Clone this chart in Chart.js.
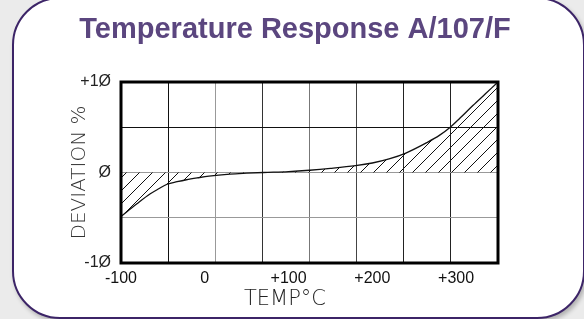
<!DOCTYPE html>
<html>
<head>
<meta charset="utf-8">
<script src="https://cdn.jsdelivr.net/npm/chart.js@4.4.1/dist/chart.umd.min.js"></script>
<style>
  html, body { margin: 0; padding: 0; width: 584px; height: 319px; overflow: hidden; background: #ebebeb; }
  #card { position: absolute; left: 12px; top: -3px; width: 569px; height: 318px; border: 2px solid #3c2467;
          border-radius: 48px; background: #fff; box-shadow: 2px 3px 4px rgba(0,0,0,.25); }
  #chart { position: absolute; left: 0; top: 0; }
  #xtitle { position: absolute; left: 235px; width: 100px; top: 286px; text-align: center; color: #222;
            font: 200 21px 'DejaVu Sans'; font-stretch: condensed; line-height: 24px; white-space: nowrap; }
</style>
</head>
<body>
<div id="card"></div>
<canvas id="chart" width="584" height="319"></canvas>
<div id="xtitle">TEMP°C</div>
<script>
// temperature (°C) and deviation (%)
const temps     = [-100, -81,  -65,   -55,  -45,  -33,   -22,  -8,    5,    30,    50,   70,  100, 125,  150,  180, 200,  220, 240,  265, 280, 293, 305,  320, 335, 350];
const deviation = [-4.85, -3.45, -2.35, -1.8, -1.3, -1.02, -0.8, -0.58, -0.4, -0.18, -0.08, 0.0, 0.1, 0.25, 0.45, 0.75, 1.05, 1.5, 2.15, 3.3, 4.1, 5.0, 6.05, 7.4, 8.7, 10];

const xTickValues = [-100, 0, 100, 200, 300];
const xTickLabels = ['-100', '0', '+100', '+200', '+300'];
const yTickValues = [10, 0, -10];
const yTickLabels = ['+1Ø', 'Ø', '-1Ø'];

const X_MIN = -100, X_MAX = 350, X_DIVS = 8;

function hatch() {
  const c = document.createElement('canvas');
  c.width = c.height = 13;
  const g = c.getContext('2d');
  g.strokeStyle = '#111';
  g.lineWidth = 1;
  g.beginPath();
  g.moveTo(-1, 14); g.lineTo(14, -1);
  g.moveTo(-1, 1); g.lineTo(1, -1);
  g.moveTo(12, 14); g.lineTo(14, 12);
  g.stroke();
  return g.createPattern(c, 'repeat');
}

const frame = {
  id: 'frame',
  afterDraw(chart) {
    const { ctx, chartArea: a } = chart;
    ctx.save();
    ctx.strokeStyle = '#000';
    ctx.lineWidth = 3;
    ctx.strokeRect(a.left, a.top, a.right - a.left, a.bottom - a.top);
    ctx.restore();
  }
};

const vGridColors = ['#000', '#111', '#999', '#333', '#777', '#444', '#222', '#222', '#000'];
const PAD = { top: 13, left: 62, right: 56, bottom: 6 };

new Chart(document.getElementById('chart'), {
  type: 'line',
  data: {
    datasets: [{
      data: temps.map((t, i) => ({ x: t, y: deviation[i] })),
      borderColor: '#111',
      borderWidth: 1.3,
      pointRadius: 0,
      cubicInterpolationMode: 'monotone',
      fill: 'origin',
      backgroundColor: hatch()
    }]
  },
  options: {
    responsive: false,
    animation: false,
    layout: { padding: PAD },
    plugins: {
      legend: { display: false },
      tooltip: { enabled: false },
      title: {
        display: true,
        text: 'Temperature Response A/107/F',
        color: '#5b467f',
        font: { family: 'Liberation Sans', weight: 'bold', size: 29 },
        padding: { top: 0, bottom: 82 - PAD.top - 29 * 1.2 }
      }
    },
    scales: {
      x: {
        type: 'linear',
        min: X_MIN,
        max: X_MAX,
        afterBuildTicks: axis => {
          const step = (X_MAX - X_MIN) / X_DIVS;
          const grid = [];
          for (let i = 0; i <= X_DIVS; i++) grid.push({ value: X_MIN + i * step, grid: i });
          axis.ticks = grid.concat(xTickValues.map(v => ({ value: v, label: true })));
        },
        afterFit: s => { s.height = 319 - PAD.bottom - 263; },
        ticks: {
          autoSkip: false,
          maxRotation: 0,
          padding: 6,
          color: '#111',
          font: { family: 'Liberation Sans', size: 16 },
          callback: function (v, i, ticks) {
            if (!ticks[i].label) return '';
            return xTickLabels[xTickValues.indexOf(v)];
          }
        },
        grid: {
          drawTicks: false,
          lineWidth: 1,
          color: c => c.tick && c.tick.label ? 'rgba(0,0,0,0)' : vGridColors[c.tick ? c.tick.grid : 0]
        },
        border: { display: false }
      },
      y: {
        min: -10,
        max: 10,
        afterFit: s => { s.width = 121 - PAD.left; },
        ticks: {
          stepSize: 5,
          padding: 10,
          color: '#222',
          font: { family: 'Liberation Sans', size: 16 },
          callback: v => {
            const k = yTickValues.indexOf(v);
            return k < 0 ? '' : yTickLabels[k];
          }
        },
        grid: {
          drawTicks: false,
          lineWidth: 1,
          color: c => (c.tick && c.tick.value === 5) ? '#111' : '#999'
        },
        border: { display: false },
        title: {
          display: true,
          text: 'DEVIATION %',
          color: '#333',
          font: { family: 'DejaVu Sans', weight: '200', size: 20 },
          padding: { top: 6, bottom: 0 }
        }
      },
      // empty right-hand axis: only keeps space so the title centres like the reference
      yRight: {
        position: 'right',
        min: -10,
        max: 10,
        afterFit: s => { s.width = 584 - PAD.right - 498; },
        grid: { display: false },
        border: { display: false },
        ticks: { display: false }
      }
    }
  },
  plugins: [frame]
});
</script>
</body>
</html>
